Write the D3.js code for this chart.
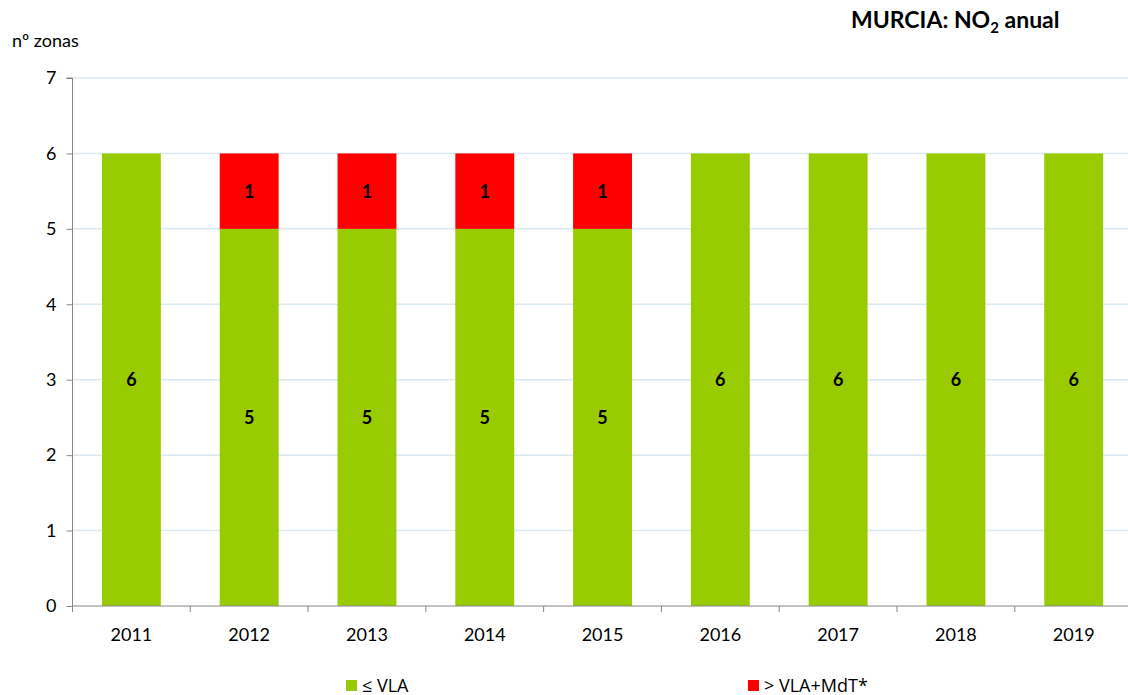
<!DOCTYPE html>
<html>
<head>
<meta charset="utf-8">
<script src="https://cdn.jsdelivr.net/npm/d3@7"></script>
<style>
  html, body { margin: 0; padding: 0; background: #fff; }
  svg { display: block; font-family: "Lato", "Open Sans", sans-serif; }
</style>
</head>
<body>
<svg id="chart" width="1128" height="695"></svg>
<script>
// Zones in Murcia by annual NO2 assessment
const years = ["2011", "2012", "2013", "2014", "2015", "2016", "2017", "2018", "2019"];
const belowVLA = [6, 5, 5, 5, 5, 6, 6, 6, 6];
const aboveVLAMdT = [0, 1, 1, 1, 1, 0, 0, 0, 0];
const yTicks = [0, 1, 2, 3, 4, 5, 6, 7];
const seriesNames = ["≤ VLA", "> VLA+MdT*"];
const seriesColors = ["#99cc00", "#ff0000"];

const svg = d3.select("#chart");
const plotLeft = 72.5, plotRight = 1132.6, plotTop = 78, plotBottom = 606;

const x = d3.scaleBand().domain(years).range([plotLeft, plotRight]).paddingInner(0.5).paddingOuter(0.25);
const y = d3.scaleLinear().domain([0, 7]).range([plotBottom, plotTop]);

// Gridlines
svg.append("g").selectAll("line").data(yTicks.filter(d => d > 0)).join("line")
  .attr("x1", plotLeft).attr("x2", 1128)
  .attr("y1", d => y(d)).attr("y2", d => y(d))
  .attr("stroke", "#dbeaf2").attr("stroke-width", 1.5);

// Stacked bars
const rows = years.map((yr, i) => ({ year: yr, a: belowVLA[i], b: aboveVLAMdT[i] }));
const stack = d3.stack().keys(["a", "b"])(rows);

stack.forEach((layer, li) => {
  const g = svg.append("g");
  layer.forEach(seg => {
    const v = seg[1] - seg[0];
    if (v <= 0) return;
    g.append("rect")
      .attr("x", x(seg.data.year))
      .attr("width", x.bandwidth())
      .attr("y", y(seg[1]))
      .attr("height", y(seg[0]) - y(seg[1]))
      .attr("fill", seriesColors[li]);
    g.append("text")
      .attr("x", x(seg.data.year) + x.bandwidth() / 2)
      .attr("y", y((seg[0] + seg[1]) / 2))
      .attr("dy", "0.36em")
      .attr("text-anchor", "middle")
      .attr("font-size", 18)
      .attr("font-weight", "bold")
      .attr("fill", "#000")
      .text(v);
  });
});

// Y axis
const yAxis = svg.append("g").attr("transform", `translate(${plotLeft},0)`)
  .call(d3.axisLeft(y).tickValues(yTicks).tickSize(6).tickPadding(10).tickFormat(d3.format("d")));
yAxis.select(".domain").attr("stroke", "#868686").attr("d", `M-6,${plotTop}H0V${plotBottom}`);
yAxis.selectAll(".tick line").attr("stroke", "#868686");
yAxis.selectAll(".tick text").attr("font-size", 18).attr("fill", "#000").attr("font-family", "Lato, sans-serif");

// X axis with ticks on band boundaries
const xAxis = svg.append("g").attr("transform", `translate(0,${plotBottom})`);
xAxis.append("line").attr("x1", plotLeft).attr("x2", 1128).attr("y1", 0).attr("y2", 0).attr("stroke", "#868686");
const step = x.step();
const bounds = d3.range(years.length + 1).map(i => plotLeft + i * step);
xAxis.selectAll(".bt").data(bounds).join("line")
  .attr("x1", d => d).attr("x2", d => d).attr("y1", 0).attr("y2", 6).attr("stroke", "#868686");
xAxis.selectAll(".xl").data(years).join("text")
  .attr("x", d => x(d) + x.bandwidth() / 2)
  .attr("y", 35)
  .attr("text-anchor", "middle")
  .attr("font-size", 18)
  .attr("fill", "#000")
  .text(d => d);

// Y axis title
svg.append("text").attr("x", 12).attr("y", 47).attr("font-size", 18).attr("fill", "#000").text("nº zonas");

// Chart title
const title = svg.append("text").attr("x", 851).attr("y", 28).attr("font-size", 23).attr("font-weight", "bold").attr("fill", "#000");
title.append("tspan").text("MURCIA: NO");
title.append("tspan").attr("font-size", 15).attr("dy", 5).text("2");
title.append("tspan").attr("dy", -5).text(" anual");

// Legend
const legendX = [346, 748];
seriesNames.forEach((name, i) => {
  svg.append("rect").attr("x", legendX[i]).attr("y", 680).attr("width", 11).attr("height", 11).attr("fill", seriesColors[i]);
  svg.append("text").attr("x", legendX[i] + 16).attr("y", 692).attr("font-size", 18).attr("fill", "#000")
    .attr("font-family", "'Open Sans', sans-serif").text(name);
});
</script>
</body>
</html>
